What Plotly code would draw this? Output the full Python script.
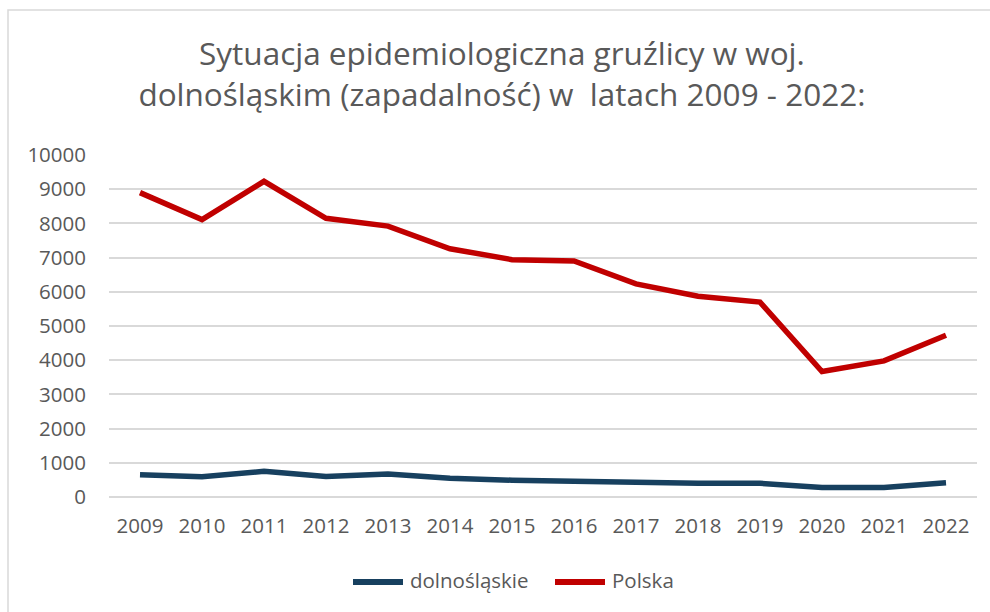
import plotly.graph_objects as go

years = ["2009", "2010", "2011", "2012", "2013", "2014", "2015", "2016",
         "2017", "2018", "2019", "2020", "2021", "2022"]
dolnoslaskie = [650, 590, 750, 600, 670, 550, 490, 450, 440, 400, 400, 280, 280, 420]
polska = [8900, 8110, 9230, 8150, 7920, 7260, 6940, 6900, 6230, 5870, 5700, 3670, 3980, 4730]
series_names = ["dolnośląskie", "Polska"]
series_colors = ["#17405F", "#C00000"]

FONT = "Open Sans"
GRAY = "#595959"

# plot area in pixels
L, R, T, B = 109, 977, 155, 497
W, H = R - L, B - T


def px(x):
    return (x - L) / W


def py(y):
    return (B - y) / H


fig = go.Figure()
for name, vals, col in zip(series_names, [dolnoslaskie, polska], series_colors):
    fig.add_trace(go.Scatter(x=years, y=vals, name=name, mode="lines",
                             line=dict(color=col, width=5.5), showlegend=False))

fig.update_layout(
    width=990, height=612,
    margin=dict(l=L, r=990 - R, t=T, b=612 - B),
    paper_bgcolor="white", plot_bgcolor="white",
    font=dict(family=FONT, color=GRAY, size=20),
    title=dict(text="Sytuacja epidemiologiczna gruźlicy w woj.<br>dolnośląskim (zapadalność) w  latach 2009 - 2022:",
               x=0.507, xanchor="center", y=0.893, yanchor="bottom",
               font=dict(family=FONT, size=31.5, color=GRAY)),
    xaxis=dict(type="category", range=[-0.5, 13.5], showgrid=False, showline=False,
               ticks="", ticklabelstandoff=14, tickfont=dict(size=20.5, color=GRAY)),
    yaxis=dict(range=[0, 10000], dtick=1000, tickformat="d", showgrid=True, gridcolor="#D9D9D9",
               gridwidth=1.5, zeroline=True, zerolinecolor="#D9D9D9", zerolinewidth=1.5,
               ticks="", ticklabelstandoff=22, tickfont=dict(size=20.5, color=GRAY)),
    showlegend=False,
)

# outer chart border
fig.add_shape(type="rect", xref="paper", yref="paper",
              x0=px(8), x1=1.2, y0=-0.5, y1=py(10),
              line=dict(color="#D9D9D9", width=1.5), fillcolor="rgba(0,0,0,0)", layer="below")

# legend (drawn manually to match long line symbols)
legend_x = [350, 552]
for name, col, lx in zip(series_names, series_colors, legend_x):
    fig.add_shape(type="line", xref="paper", yref="paper",
                  x0=px(lx + 3), x1=px(lx + 53), y0=py(582), y1=py(582),
                  line=dict(color=col, width=6))
    fig.add_annotation(text=name, xref="paper", yref="paper", x=px(lx + 58), y=py(580),
                       xanchor="left", yanchor="middle", showarrow=False,
                       font=dict(size=20.5, color=GRAY, family=FONT))

fig.write_html("out.html", post_script="document.body.style.margin='0px';",
               config={"displayModeBar": False})
